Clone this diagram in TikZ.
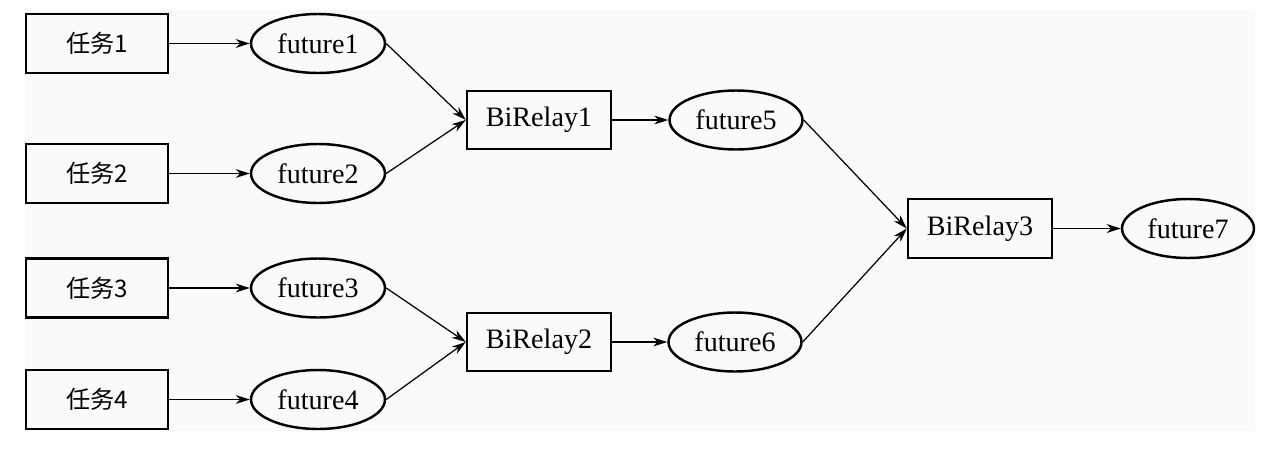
\documentclass[tikz,border=0pt]{standalone}
\usepackage{fontspec}
\setmainfont{Liberation Serif}
\newfontfamily\cjk{Noto Sans CJK SC}[Scale=0.86]
\usetikzlibrary{calc,positioning,shapes.geometric,arrows.meta}

\begin{document}
\begin{tikzpicture}[auto, x=0.02cm, y=-0.02cm,
	font=\fontsize{16}{19}\selectfont,
	taskbox/.style={draw, line width=1.4pt, minimum width=2.84cm, minimum height=1.18cm, inner sep=2pt},
	relaybox/.style={draw, line width=1.4pt, minimum width=2.88cm, minimum height=1.16cm, inner sep=2pt},
	futnode/.style={draw, ellipse, line width=1.4pt, minimum width=2.68cm, minimum height=1.18cm, inner sep=0pt},
	flow/.style={-{Stealth[length=8pt,width=5pt,inset=2.5pt]}, black, line width=0.7pt}]
	\useasboundingbox (0,0) rectangle (1280,453);
	\fill[black!2] (25,10) rectangle (1255,431);
	\coordinate (OR) at (97,43.5);
	\coordinate (MID) at (539,120);
	% left column
	\node[taskbox] (task1) at (OR) {\cjk 任务1};
	\node[taskbox] (task2) at ($ (OR) + (0,130) $) {\cjk 任务2};
	\node[taskbox] (task3) at ($ (OR) + (0,244.5) $) {\cjk 任务3};
	\node[taskbox] (task4) at ($ (OR) + (0,356) $) {\cjk 任务4};
	\node[futnode] (fut1) at ($ (task1) + (221,0) $) {future1};
	\node[futnode] (fut2) at ($ (task2) + (221,0) $) {future2};
	\node[futnode] (fut3) at ($ (task3) + (221,0) $) {future3};
	\node[futnode] (fut4) at ($ (task4) + (221,0) $) {future4};
	% middle column
	\node[relaybox] (birelay1) at (MID) {BiRelay1};
	\node[relaybox] (birelay2) at ($ (MID) + (0,222) $) {BiRelay2};
	\node[futnode, minimum width=2.66cm] (fut5) at ($ (birelay1) + (197,0) $) {future5};
	\node[futnode, minimum width=2.66cm] (fut6) at ($ (birelay2) + (196,0) $) {future6};
	% right column
	\node[relaybox, minimum height=1.18cm] (birelay3) at (980,228.5) {BiRelay3};
	\node[futnode, minimum width=2.64cm] (fut7) at ($ (birelay3) + (208,0) $) {future7};
	% connectors
	\draw[flow] (task1) -- (fut1);
	\draw[flow] (task2) -- (fut2);
	\draw[flow] (task3) -- (fut3);
	\draw[flow] (task4) -- (fut4);
	\draw[flow] (fut1.east) -- (birelay1.west);
	\draw[flow] (fut2.east) -- (birelay1.west);
	\draw[flow] (fut3.east) -- (birelay2.west);
	\draw[flow] (fut4.east) -- (birelay2.west);
	\draw[flow] (birelay1) -- (fut5);
	\draw[flow] (birelay2) -- (fut6);
	\draw[flow] (fut5.east) -- (birelay3.west);
	\draw[flow] (fut6.east) -- (birelay3.west);
	\draw[flow] (birelay3) -- (fut7);
\end{tikzpicture}
\end{document}
